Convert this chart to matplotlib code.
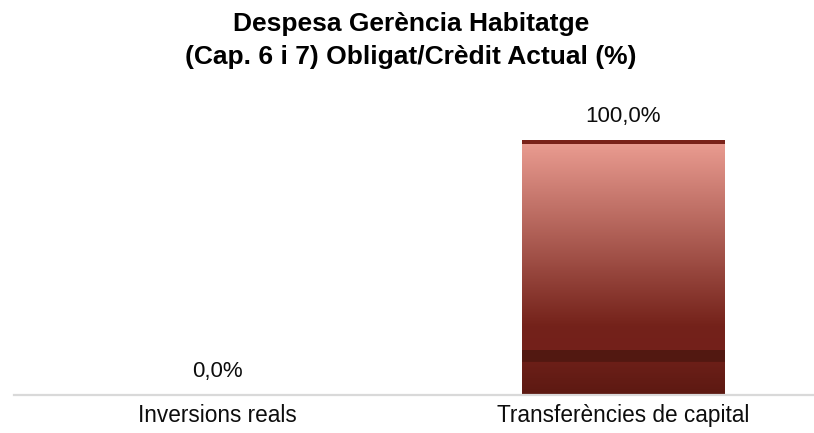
import matplotlib.pyplot as plt
import numpy as np
from matplotlib.colors import to_rgb

categories = ['Inversions reals', 'Transferències de capital']
values = [0.0, 100.0]
title = 'Despesa Gerència Habitatge\n(Cap. 6 i 7) Obligat/Crèdit Actual (%)'

plt.rcParams['font.family'] = ['Liberation Sans', 'DejaVu Sans']


def bar_gradient(n=72):
    # colour stops from bottom (0) to top (1) of the bar
    stops = [
        (0.000, '#5c1912'), (0.130, '#6c1f18'),
        (0.131, '#521811'), (0.176, '#521811'),
        (0.177, '#73201a'), (0.270, '#74221a'),
        (0.984, '#e99b90'),
        (0.985, '#7a2219'), (1.000, '#7a2219'),
    ]
    pos = np.array([s[0] for s in stops])
    cols = np.array([to_rgb(s[1]) for s in stops])
    f = (np.arange(n) + 0.5) / n
    rgb = np.stack([np.interp(f, pos, cols[:, k]) for k in range(3)], axis=1)
    return rgb[::-1].reshape(n, 1, 3)


fig = plt.figure(figsize=(8.14, 4.33), dpi=100)
ax = fig.add_axes([14 / 814, 38 / 433, 812 / 814, 306 / 433])

x = np.arange(len(categories))
bars = ax.bar(x, values, width=0.5, color='#74221a', linewidth=0)

# stepped vertical gradient over each bar, clipped to the bar outline
grad = bar_gradient(256)
for b in bars:
    if b.get_height() <= 0:
        continue
    x0, w, h = b.get_x(), b.get_width(), b.get_height()
    im = ax.imshow(grad, extent=(x0, x0 + w, 0, h), aspect='auto',
                   interpolation='nearest', zorder=b.get_zorder() + 0.1)
    im.set_clip_path(b)

for xi, v in zip(x, values):
    ax.annotate(f'{v:.1f}%'.replace('.', ','), xy=(xi, v), xytext=(0, 17),
                textcoords='offset points', ha='center', va='center',
                fontsize=16, color='#0d0d0d')

ax.set_xlim(-0.5, 1.5)
ax.set_ylim(0, 120)
ax.set_xticks(x)
ax.set_xticklabels(categories, fontsize=16.3, color='#0d0d0d')
ax.set_yticks([])
ax.tick_params(axis='x', length=0, pad=6.5)
for side in ['top', 'right', 'left']:
    ax.spines[side].set_visible(False)
ax.spines['bottom'].set_color('#d9d9d9')
ax.spines['bottom'].set_linewidth(1.6)

fig.text(0.505, 0.906, title, ha='center', va='center',
         fontsize=19, fontweight='bold', linespacing=1.45)

fig.savefig('out.png', dpi=100)
